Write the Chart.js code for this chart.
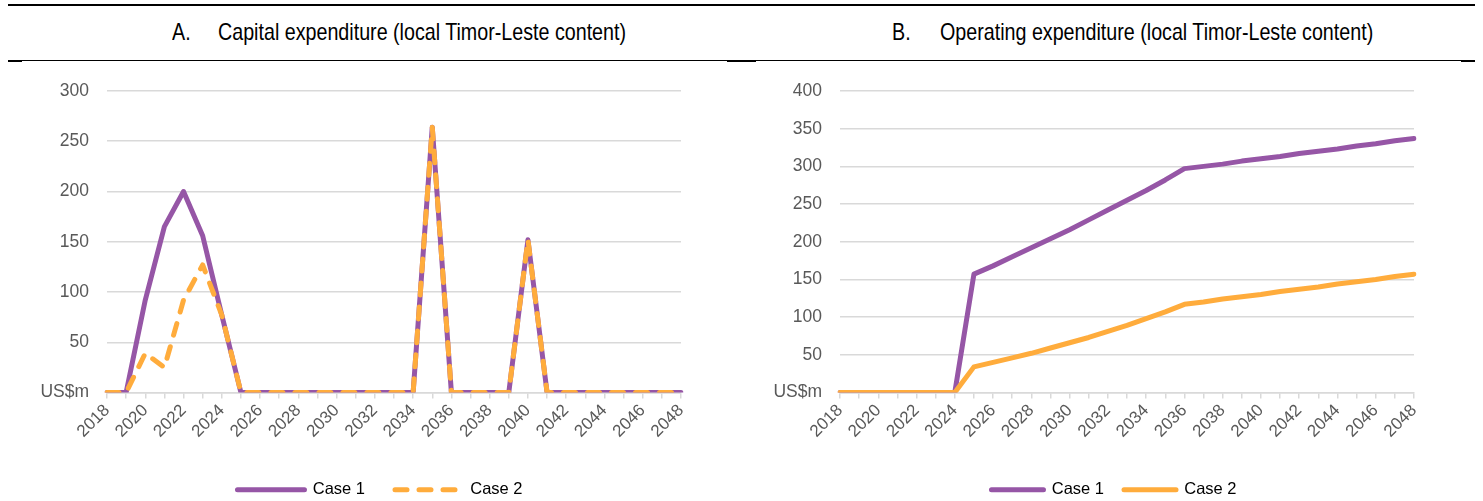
<!DOCTYPE html>
<html>
<head>
<meta charset="utf-8">
<script src="https://cdn.jsdelivr.net/npm/chart.js@4.4.1/dist/chart.umd.min.js"></script>
<style>
  body { margin: 0; background: #fff; }
  #page { position: relative; width: 1483px; height: 501px; overflow: hidden;
          font-family: "Liberation Sans", Arial, sans-serif; }
  .rule { position: absolute; background: #000; }
  .title { position: absolute; top: 18px; font-size: 24px; line-height: 28px; color: #000;
           white-space: nowrap; transform: scaleX(0.82); transform-origin: left top; }
  .panel { position: absolute; top: 68px; }
</style>
</head>
<body>
<div id="page">
  <!-- header rules -->
  <div class="rule" style="left:8px;top:4px;width:1467px;height:2px"></div>
  <div class="rule" style="left:8px;top:60px;width:1467px;height:1px"></div>
  <div class="rule" style="left:8px;top:60px;width:14px;height:2px"></div>
  <div class="rule" style="left:727px;top:60px;width:29px;height:2px"></div>
  <div class="rule" style="left:1461px;top:60px;width:14px;height:2px"></div>

  <div class="title" style="left:172px">A.</div>
  <div class="title" style="left:218px">Capital expenditure (local Timor-Leste content)</div>
  <div class="title" style="left:892px">B.</div>
  <div class="title" style="left:940px">Operating expenditure (local Timor-Leste content)</div>

  <canvas id="capex" class="panel" style="left:0px" width="740" height="440"></canvas>
  <canvas id="opex" class="panel" style="left:741px" width="742" height="440"></canvas>
</div>
<script>
// categories
const years = ['2018', '2019', '2020', '2021', '2022', '2023', '2024', '2025', '2026', '2027',
               '2028', '2029', '2030', '2031', '2032', '2033', '2034', '2035', '2036', '2037',
               '2038', '2039', '2040', '2041', '2042', '2043', '2044', '2045', '2046', '2047', '2048'];

// A. capital expenditure, US$m
const capexCase1 = [0, 0, 92, 165, 200, 156, 77, 0, 0, 0, 0, 0, 0, 0, 0, 0,
                    0, 264, 0, 0, 0, 0, 152, 0, 0, 0, 0, 0, 0, 0, 0];
const capexCase2 = [0, 0, 39, 25, 92, 127, 77, 0, 0, 0, 0, 0, 0, 0, 0, 0,
                    0, 264, 0, 0, 0, 0, 152, 0, 0, 0, 0, 0, 0, 0, 0];

// B. operating expenditure, US$m
const opexCase1 = [0, 0, 0, 0, 0, 0, 0, 157, 168, 180, 192, 204, 216, 229, 242, 255,
                   268, 282, 297, 300, 303, 307, 310, 313, 317, 320, 323, 327, 330, 334, 337];
const opexCase2 = [0, 0, 0, 0, 0, 0, 0, 34, 40, 46, 52, 59, 66, 73, 81, 89,
                   98, 107, 117, 120, 124, 127, 130, 134, 137, 140, 144, 147, 150, 154, 157];

const PURPLE = '#9656a6';
const ORANGE = '#ffac3c';
const GRID = '#d9d9d9';
const TICK_TEXT = '#595959';

Chart.defaults.font.family = '"Liberation Sans", Arial, sans-serif';

// legend entries drawn as short lines, keeping the dataset's dash
function legendLabels(chart) {
    const items = Chart.defaults.plugins.legend.labels.generateLabels(chart);
    items.forEach((item) => {
        const ds = chart.data.datasets[item.datasetIndex];
        item.lineDash = ds.borderDash || [];
        item.lineCap = 'round';
        item.lineWidth = 5;
        item.strokeStyle = ds.borderColor;
        item.fillStyle = ds.borderColor;
    });
    return items;
}

// nudge the legend sideways (Excel did not centre it exactly)
const legendShift = {
    id: 'legendShift',
    afterLayout(chart, args, opts) {
        if (chart.legend) {
            chart.legend.left += opts.x || 0;
            chart.legend.right += opts.x || 0;
        }
    },
};

function lineChart(id, cfg) {
    const datasets = [
        {
            label: 'Case 1',
            data: cfg.case1,
            borderColor: PURPLE,
            backgroundColor: PURPLE,
            order: 1,
        },
        {
            label: 'Case 2',
            data: cfg.case2,
            borderColor: ORANGE,
            backgroundColor: ORANGE,
            borderDash: cfg.dashed ? [12, 12] : [],
            order: 0,
        },
    ];
    datasets.forEach((d) => {
        d.borderWidth = 5;
        d.pointRadius = 0;
        d.tension = 0;
        d.borderCapStyle = 'round';
        d.borderJoinStyle = 'round';
    });

    return new Chart(document.getElementById(id), {
        type: 'line',
        data: { labels: years, datasets },
        plugins: [legendShift],
        options: {
            responsive: false,
            animation: false,
            events: [],
            layout: { padding: { left: 0, right: 0, top: 23, bottom: 0 } },
            plugins: {
                tooltip: { enabled: false },
                legendShift: { x: cfg.legendShift },
                legend: {
                    position: 'bottom',
                    labels: {
                        usePointStyle: true,
                        pointStyle: 'line',
                        pointStyleWidth: cfg.legendLine,
                        boxHeight: 20,
                        padding: cfg.legendGap,
                        color: '#000',
                        font: { size: 16.5 },
                        generateLabels: legendLabels,
                        sort: (a, b) => a.datasetIndex - b.datasetIndex,
                    },
                },
            },
            scales: {
                x: {
                    grid: { drawOnChartArea: false, drawTicks: true, tickLength: 6, color: GRID, lineWidth: 1.5 },
                    border: { display: true, color: GRID, width: 1.5 },
                    ticks: {
                        autoSkip: false,
                        maxRotation: 45,
                        minRotation: 45,
                        padding: 2,
                        color: TICK_TEXT,
                        font: { size: 17 },
                        callback: (v, i) => (i % 2 === 0 ? years[i] : ''),
                    },
                    afterFit: (s) => {
                        s.height = cfg.xHeight;
                        s.paddingLeft = 0;
                        s.paddingRight = 0;
                    },
                },
                y: {
                    min: 0,
                    max: cfg.yMax,
                    grid: { drawTicks: false, color: GRID, lineWidth: 1.5 },
                    border: { display: false },
                    ticks: {
                        stepSize: 50,
                        padding: 18,
                        color: TICK_TEXT,
                        font: { size: 17.5 },
                        callback: (v) => (v === 0 ? 'US$m' : v),
                    },
                    afterFit: (s) => {
                        s.width = cfg.yWidth;
                        s.paddingTop = 0;
                        s.paddingBottom = 0;
                    },
                },
                // empty right axis only reserves the space right of the plot
                spacer: {
                    type: 'linear',
                    position: 'right',
                    grid: { display: false },
                    border: { display: false },
                    ticks: { display: false },
                    afterFit: (s) => {
                        s.width = cfg.rightWidth;
                        s.paddingTop = 0;
                        s.paddingBottom = 0;
                    },
                },
            },
        },
    });
}

lineChart('capex', { case1: capexCase1, case2: capexCase2, dashed: true,
                     yMax: 300, yWidth: 107, rightWidth: 59, xHeight: 59,
                     legendShift: 10, legendLine: 67, legendGap: 30 });
lineChart('opex', { case1: opexCase1, case2: opexCase2, dashed: false,
                    yMax: 400, yWidth: 99, rightWidth: 69, xHeight: 69,
                    legendShift: 2, legendLine: 52, legendGap: 20 });
</script>
</body>
</html>
